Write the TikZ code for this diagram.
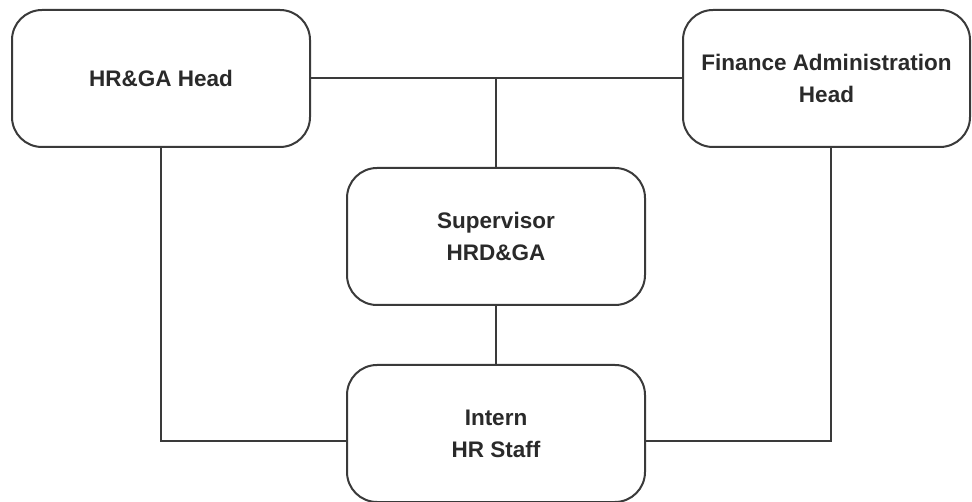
\documentclass[tikz,border=0pt]{standalone}
\usepackage{fontspec}
\setmainfont{Liberation Sans}
\definecolor{linegray}{HTML}{3A3A3A}
\definecolor{textgray}{HTML}{2A2A2A}
\begin{document}
\begin{tikzpicture}[x=1pt,y=-1pt,
  orgbox/.style={draw=linegray, line width=2pt, rounded corners=30pt, fill=white,
    minimum width=#1, minimum height=137pt, inner sep=0pt, align=center,
    font=\fontsize{22.5}{32}\selectfont\bfseries, text=textgray},
  orgbox/.default=298pt,
  link/.style={draw=linegray, line width=2pt}]
\useasboundingbox (0,0) rectangle (972,502);
\node[orgbox=298pt] (hr) at (161,78.5) {HR\&GA Head};
\node[orgbox=287pt] (fin) at (826.5,78.5) {Finance Administration\\Head};
\node[orgbox=298pt] (sup) at (496,236.5) {Supervisor\\HRD\&GA};
\node[orgbox=298pt] (intern) at (496,433.5) {Intern\\HR Staff};
\coordinate (finfoot) at ([xshift=4pt]fin.south);
\coordinate (intw) at ([yshift=-7pt]intern.west);
\coordinate (inte) at ([yshift=-7pt]intern.east);
\draw[link] (hr.east) -- (fin.west);
\draw[link] (sup.north) -- (sup.north |- hr.east);
\draw[link] (sup.south) -- (intern.north);
\draw[link] (hr.south) |- (intw);
\draw[link] (finfoot) |- (inte);
\end{tikzpicture}
\end{document}
